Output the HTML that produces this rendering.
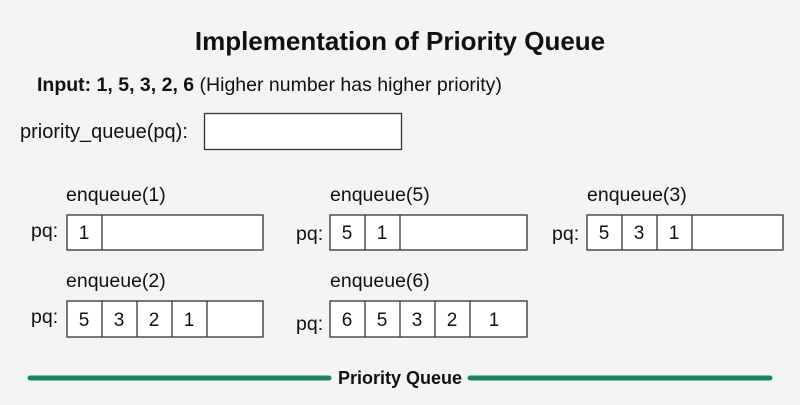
<!DOCTYPE html>
<html><head><style>body{margin:0;background:#f4f4f4}</style></head><body>
<svg width="800" height="400" viewBox="0 0 800 400" xmlns="http://www.w3.org/2000/svg" font-family="Liberation Sans, sans-serif">
<rect width="800" height="400" fill="#f4f4f4"/>
<text x="400" y="50" text-anchor="middle" font-size="26" font-weight="bold" fill="#111">Implementation of Priority Queue</text>
<text x="37" y="91" font-size="19.5" fill="#111"><tspan font-weight="bold">Input: 1, 5, 3, 2, 6</tspan> (Higher number has higher priority)</text>
<text x="20" y="138" font-size="20" fill="#111">priority_queue(pq):</text>
<rect x="204.5" y="113.5" width="197" height="36" fill="#fff" stroke="#333" stroke-width="1.3"/>
<g font-size="19.5" fill="#111">
<text x="66" y="201">enqueue(1)</text>
<text x="330" y="201">enqueue(5)</text>
<text x="587" y="201">enqueue(3)</text>
<text x="66" y="287">enqueue(2)</text>
<text x="330" y="287">enqueue(6)</text>
<text x="31" y="237">pq:</text>
<text x="296" y="240">pq:</text>
<text x="552" y="240">pq:</text>
<text x="31" y="323">pq:</text>
<text x="296" y="330">pq:</text>
</g>
<g fill="#fff" stroke="#333" stroke-width="1.3">
<rect x="67" y="215" width="196" height="35"/>
<rect x="330" y="215" width="197" height="35"/>
<rect x="587" y="215" width="196" height="35"/>
<rect x="67" y="301" width="196" height="36"/>
<rect x="330" y="301" width="197" height="36"/>
</g>
<g stroke="#333" stroke-width="1.3">
<line x1="102" y1="215" x2="102" y2="250"/>
<line x1="365" y1="215" x2="365" y2="250"/><line x1="400" y1="215" x2="400" y2="250"/>
<line x1="622" y1="215" x2="622" y2="250"/><line x1="657" y1="215" x2="657" y2="250"/><line x1="692" y1="215" x2="692" y2="250"/>
<line x1="102" y1="301" x2="102" y2="337"/><line x1="137" y1="301" x2="137" y2="337"/><line x1="172" y1="301" x2="172" y2="337"/><line x1="207" y1="301" x2="207" y2="337"/>
<line x1="365" y1="301" x2="365" y2="337"/><line x1="400" y1="301" x2="400" y2="337"/><line x1="435" y1="301" x2="435" y2="337"/><line x1="470" y1="301" x2="470" y2="337"/>
</g>
<g font-size="19" fill="#111" text-anchor="middle">
<text x="84" y="239">1</text>
<text x="347" y="239">5</text><text x="382" y="239">1</text>
<text x="604" y="239">5</text><text x="639" y="239">3</text><text x="674" y="239">1</text>
<text x="84" y="326">5</text><text x="119" y="326">3</text><text x="154" y="326">2</text><text x="189" y="326">1</text>
<text x="347" y="326">6</text><text x="382" y="326">5</text><text x="417" y="326">3</text><text x="452" y="326">2</text><text x="494" y="326">1</text>
</g>
<g stroke="#168a5c" stroke-width="5" stroke-linecap="round">
<line x1="30" y1="378" x2="329" y2="378"/>
<line x1="470" y1="378" x2="770" y2="378"/>
</g>
<text x="400" y="384" text-anchor="middle" font-size="18" font-weight="bold" fill="#111">Priority Queue</text>
</svg>
</body></html>
